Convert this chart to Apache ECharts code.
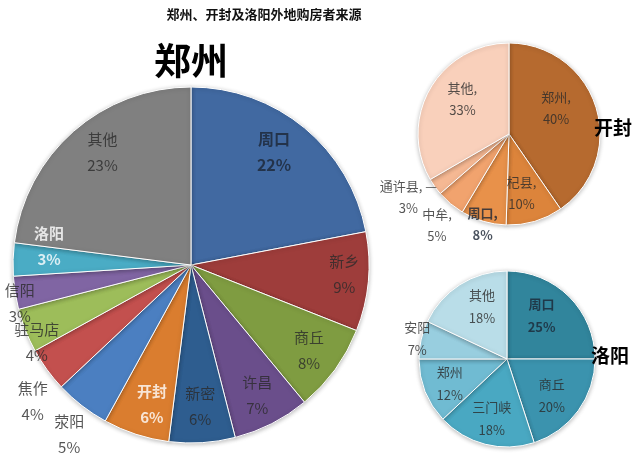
<!DOCTYPE html>
<html><head><meta charset="utf-8">
<script src="https://cdn.jsdelivr.net/npm/echarts@6/dist/echarts.min.js"></script>
<style>html,body{margin:0;padding:0;background:#fff}#c{width:640px;height:460px}</style>
</head><body><div id="c"></div>
<script>
// ---- data ----
const chartTitle = '郑州、开封及洛阳外地购房者来源';
const zzTitle = '郑州', kfTitle = '开封', lyTitle = '洛阳';

const zzNames  = ['周口','新乡','商丘','许昌','新密','开封','荥阳','焦作','驻马店','信阳','洛阳','其他'];
const zzValues = [22, 9, 8, 7, 6, 6, 5, 4, 4, 3, 3, 23];
const zzColors = ['#4169a1','#9e3d3b','#7f9c41','#6a4e8b','#2e5d8f','#da7d2f','#4b7fc1','#c3504e','#9dbd5a','#8065a3','#4aacc5','#808080'];

const kfNames  = ['郑州','杞县','周口','中牟','通许县','其他'];
const kfValues = [40, 10, 8, 5, 3, 33];
const kfColors = ['#b66a2f','#dc843b','#e8914a','#f1a36e','#f5b893','#f9d0bb'];

const lyNames  = ['周口','商丘','三门峡','郑州','安阳','其他'];
const lyValues = [25, 20, 18, 12, 7, 18];
const lyColors = ['#31859c','#3b93ae','#49a8c2','#70bbd2','#98cedf','#b9dde8'];

// ---- layout / style ----
const FONT = '"Noto Sans CJK SC", "Noto Sans", sans-serif';
const ZZ = {c:[191,265], r:178};
const KF = {c:[509,134], r:91};
const LY = {c:[507,359], r:88};

const boldDark = {fontWeight:'bold', color:'#1b2535'};
const boldWhite = {fontWeight:'bold', color:'#ffffff'};

// label placement: radius ratio, pixel nudge, extra style
const zzLabelSpec = {
  '周口':{r:0.82, dx:-10, dy:-1, s:Object.assign({fontSize:16}, boldDark)},
  '新乡':{r:0.82, dx:8, dy:-4}, '商丘':{r:0.82}, '许昌':{r:0.82},
  '新密':{r:0.82, dx:0, dy:-4}, '开封':{r:0.82, dx:6, s:boldWhite},
  '荥阳':{r:1.19, dx:8, dy:2}, '焦作':{r:1.19, dx:13, dy:12},
  '驻马店':{r:0.98, dx:8, dy:13}, '信阳':{r:0.98, dx:1, dy:11},
  '洛阳':{r:0.82, dx:4, dy:-14, s:boldWhite}, '其他':{r:0.82, dx:8, dy:-3}
};
const kfLabelSpec = {
  '郑州':{r:0.68, dx:-12, dy:-8}, '杞县':{r:0.68, dx:-5}, '周口':{r:1.03, s:boldDark},
  '中牟':{r:1.3, dx:4}, '通许县':{r:1.29, dx:-5, dy:-5, tail:' —'}, '其他':{r:0.68, dx:7, dy:-4}
};
const lyLabelSpec = {
  '周口':{r:0.7, dx:-9, s:boldDark}, '商丘':{r:0.7, dx:-5}, '三门峡':{r:0.7},
  '郑州':{r:0.7, dy:2}, '安阳':{r:1.08, dx:3}, '其他':{r:0.7, dx:8}
};

function mainPie(P, names, values, colors){
  return {type:'pie', center:P.c, radius:[0,P.r], startAngle:90, clockwise:true,
    data:names.map((n,i)=>({name:n, value:values[i], itemStyle:{color:colors[i]}})),
    label:{show:false}, labelLine:{show:false},
    itemStyle:{borderColor:'#ffffff', borderWidth:1, shadowBlur:4, shadowColor:'rgba(0,0,0,0.25)', shadowOffsetY:1},
    silent:true, emphasis:{disabled:true}, z:1};
}
// labels placed in a polar system whose angle axis spans the same total as the pie
function labelSeries(polarIndex, names, values, spec, sep, fs, lh){
  let cum = 0;
  const data = names.map((n,i)=>{
    const mid = cum + values[i]/2; cum += values[i];
    const sp = spec[n];
    return {name:n, value:[sp.r, mid],
      label:Object.assign({offset:[sp.dx||0, sp.dy||0],
        formatter: n + sep + (sp.tail||'') + '\n' + values[i] + '%'}, sp.s||{})};
  });
  return {type:'scatter', coordinateSystem:'polar', polarIndex, clip:false, silent:true, z:5,
    symbolSize:1, itemStyle:{color:'rgba(0,0,0,0)'}, emphasis:{disabled:true},
    label:{show:true, position:'inside', align:'center', verticalAlign:'middle',
      fontFamily:FONT, fontSize:fs, lineHeight:lh, color:'#2b2b2b'},
    data};
}
const sum = a => a.reduce((x,y)=>x+y,0);
function polarOf(P){ return {center:P.c, radius:P.r*2}; }
function angleOf(i, total){ return {polarIndex:i, type:'value', min:0, max:total, startAngle:90, clockwise:true,
  show:false, axisLine:{show:false}, splitLine:{show:false}, axisLabel:{show:false}, axisTick:{show:false}}; }
function radOf(i){ return {polarIndex:i, type:'value', min:0, max:2, show:false,
  axisLine:{show:false}, splitLine:{show:false}, axisLabel:{show:false}, axisTick:{show:false}}; }

const chart = echarts.init(document.getElementById('c'), null, {renderer:'canvas'});
chart.setOption({
  animation:false,
  backgroundColor:'#ffffff',
  graphic:[
    {type:'text', x:264, y:14, style:{text:chartTitle, font:'bold 13px '+FONT, fill:'#111', align:'center', verticalAlign:'middle'}},
    {type:'text', x:191, y:61, z:10, style:{text:zzTitle, font:'bold 37px '+FONT, fill:'#000', align:'center', verticalAlign:'middle'}},
    {type:'text', x:613, y:128, z:10, style:{text:kfTitle, font:'bold 19px '+FONT, fill:'#000', align:'center', verticalAlign:'middle'}},
    {type:'text', x:610, y:356, z:10, style:{text:lyTitle, font:'bold 19px '+FONT, fill:'#000', align:'center', verticalAlign:'middle'}}
  ],
  polar:[polarOf(ZZ), polarOf(KF), polarOf(LY)],
  angleAxis:[angleOf(0, sum(zzValues)), angleOf(1, sum(kfValues)), angleOf(2, sum(lyValues))],
  radiusAxis:[radOf(0), radOf(1), radOf(2)],
  series:[
    mainPie(ZZ, zzNames, zzValues, zzColors),
    mainPie(KF, kfNames, kfValues, kfColors),
    mainPie(LY, lyNames, lyValues, lyColors),
    labelSeries(0, zzNames, zzValues, zzLabelSpec, '', 15, 26),
    labelSeries(1, kfNames, kfValues, kfLabelSpec, ',', 13, 22),
    labelSeries(2, lyNames, lyValues, lyLabelSpec, '', 13, 23)
  ]
});
</script></body></html>
